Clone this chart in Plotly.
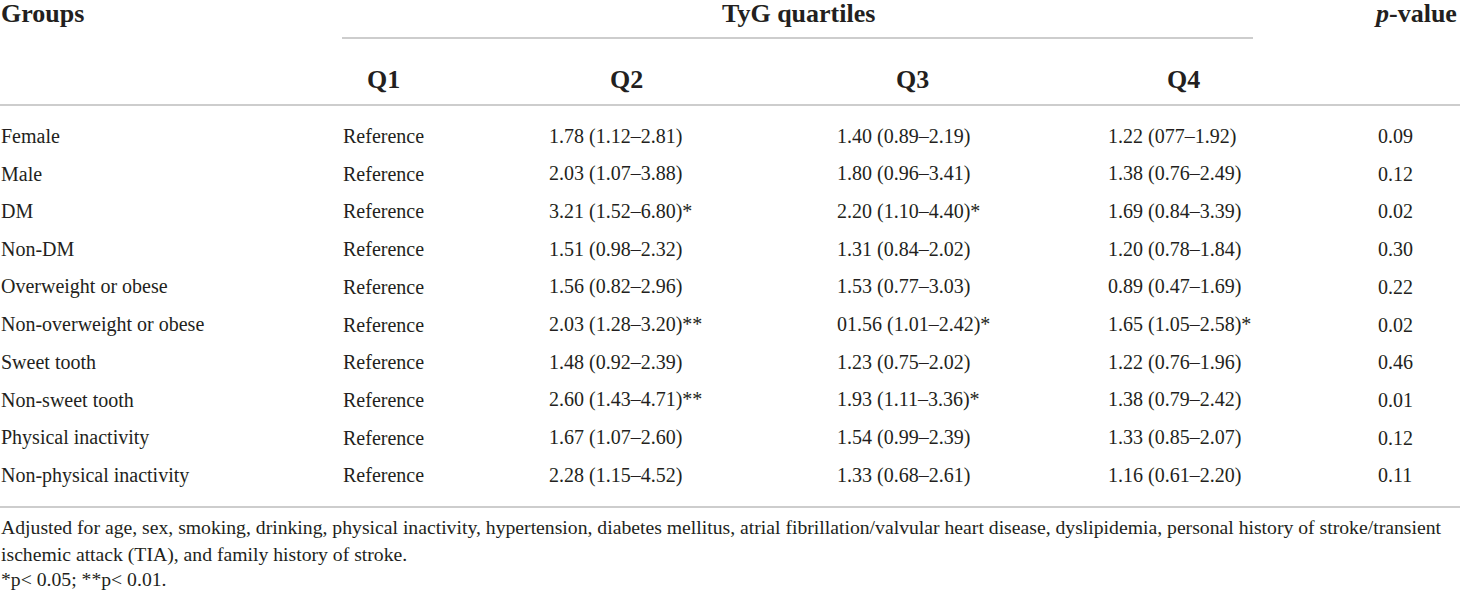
import plotly.graph_objects as go

groups = ['Female', 'Male', 'DM', 'Non-DM', 'Overweight or obese',
          'Non-overweight or obese', 'Sweet tooth', 'Non-sweet tooth',
          'Physical inactivity', 'Non-physical inactivity']
q1 = ['Reference'] * 10
q2 = ['1.78 (1.12–2.81)', '2.03 (1.07–3.88)', '3.21 (1.52–6.80)*', '1.51 (0.98–2.32)',
      '1.56 (0.82–2.96)', '2.03 (1.28–3.20)**', '1.48 (0.92–2.39)', '2.60 (1.43–4.71)**',
      '1.67 (1.07–2.60)', '2.28 (1.15–4.52)']
q3 = ['1.40 (0.89–2.19)', '1.80 (0.96–3.41)', '2.20 (1.10–4.40)*', '1.31 (0.84–2.02)',
      '1.53 (0.77–3.03)', '01.56 (1.01–2.42)*', '1.23 (0.75–2.02)', '1.93 (1.11–3.36)*',
      '1.54 (0.99–2.39)', '1.33 (0.68–2.61)']
q4 = ['1.22 (077–1.92)', '1.38 (0.76–2.49)', '1.69 (0.84–3.39)', '1.20 (0.78–1.84)',
      '0.89 (0.47–1.69)', '1.65 (1.05–2.58)*', '1.22 (0.76–1.96)', '1.38 (0.79–2.42)',
      '1.33 (0.85–2.07)', '1.16 (0.61–2.20)']
p_values = ['0.09', '0.12', '0.02', '0.30', '0.22', '0.02', '0.46', '0.01', '0.12', '0.11']

quartiles = ['Q1', 'Q2', 'Q3', 'Q4']
footnotes = [
    'Adjusted for age, sex, smoking, drinking, physical inactivity, hypertension, diabetes mellitus, '
    'atrial fibrillation/valvular heart disease, dyslipidemia, personal history of stroke/transient',
    'ischemic attack (TIA), and family history of stroke.',
    '*p< 0.05; **p< 0.01.',
]

FONT = 'Liberation Serif'
TXT = 'rgb(35, 31, 32)'
RULE = 'rgb(205, 205, 205)'

# page layout (pixels)
col_x = [0, 342, 548, 836, 1107, 1377]
q_centre = [383, 626, 912, 1183]
row_y0, row_step = 136, 37.7
foot_y = [527, 554, 579]

fig = go.Figure()
fig.update_layout(
    width=1460, height=592,
    margin=dict(l=0, r=0, t=0, b=0),
    paper_bgcolor='white', plot_bgcolor='white',
    xaxis=dict(range=[0, 1460], visible=False, fixedrange=True),
    yaxis=dict(range=[592, 0], visible=False, fixedrange=True),
    showlegend=False,
)

annotations = []

def txt(x, y, text, anchor='left', size=20, bold=False):
    if bold:
        text = '<b>' + text + '</b>'
    annotations.append(dict(xref='x', yref='y', x=x, y=y, text=text,
                            xanchor=anchor, yanchor='middle', showarrow=False,
                            borderpad=0,
                            font=dict(family=FONT, size=size, color=TXT)))

# header
txt(0, 13, 'Groups', bold=True, size=26)
txt(798, 13, 'TyG quartiles', anchor='center', bold=True, size=26)
txt(1458, 13, '<i>p</i>-value', anchor='right', bold=True, size=26)
for q, cx in zip(quartiles, q_centre):
    txt(cx, 79, q, anchor='center', bold=True, size=26)

# body
for i, g in enumerate(groups):
    y = row_y0 + i * row_step
    for cx, val in zip(col_x, [g, q1[i], q2[i], q3[i], q4[i], p_values[i]]):
        txt(cx, y, val)

# footnotes
for fy, f in zip(foot_y, footnotes):
    txt(0, fy, f, size=19.7)

fig.update_layout(annotations=annotations)

fig.add_shape(type='line', x0=342, x1=1253, y0=38, y1=38, line=dict(color=RULE, width=2))
fig.add_shape(type='line', x0=0, x1=1460, y0=105, y1=105, line=dict(color=RULE, width=2))
fig.add_shape(type='line', x0=0, x1=1460, y0=507, y1=507, line=dict(color=RULE, width=2))

fig.write_html('out.html', config=dict(displayModeBar=False),
               post_script="document.body.style.margin='0px';")
